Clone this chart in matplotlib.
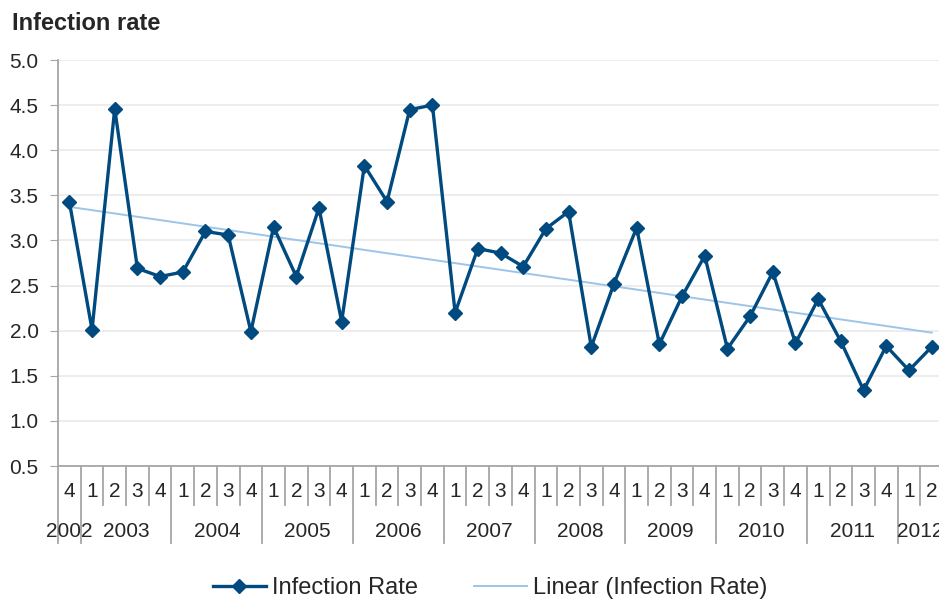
import numpy as np
import matplotlib
matplotlib.use("Agg")
import matplotlib.pyplot as plt
from matplotlib.lines import Line2D

plt.rcParams["font.family"] = ["Liberation Sans", "DejaVu Sans"]

# Quarterly infection rate, 2002 Q4 - 2012 Q2
quarters = ["4",
            "1", "2", "3", "4",
            "1", "2", "3", "4",
            "1", "2", "3", "4",
            "1", "2", "3", "4",
            "1", "2", "3", "4",
            "1", "2", "3", "4",
            "1", "2", "3", "4",
            "1", "2", "3", "4",
            "1", "2", "3", "4",
            "1", "2"]
years = ["2002", "2003", "2004", "2005", "2006", "2007",
         "2008", "2009", "2010", "2011", "2012"]
year_counts = [1, 4, 4, 4, 4, 4, 4, 4, 4, 4, 2]
rate = [3.43,
        2.01, 4.46, 2.69, 2.60,
        2.65, 3.10, 3.06, 1.99,
        3.15, 2.60, 3.36, 2.10,
        3.83, 3.43, 4.45, 4.50,
        2.20, 2.91, 2.86, 2.71,
        3.13, 3.32, 1.82, 2.52,
        3.14, 1.85, 2.38, 2.83,
        1.80, 2.16, 2.65, 1.86,
        2.35, 1.88, 1.34, 1.83,
        1.56, 1.82]

x = np.arange(len(rate))
slope, intercept = np.polyfit(x, rate, 1)
trend = slope * x + intercept

navy = "#004a7f"
light = "#9cc5e9"
grey = "#a6a6a6"
ink = "#262626"
fs = 15

fig = plt.figure(figsize=(9.39, 6), dpi=100)
ax = fig.add_axes([58 / 939, 134 / 600, 885 / 939, 406 / 600])

ax.plot(x, rate, color=navy, lw=2.4, marker="D", ms=7, zorder=3)
ax.plot(x, trend, color=light, lw=1.4, zorder=2)

ax.set_xlim(-0.5, len(rate) - 0.5)
ax.set_ylim(0.5, 5.0)
yt = np.arange(0.5, 5.01, 0.5)
ax.set_yticks(yt)
ax.set_yticklabels([f"{v:.1f}" for v in yt])
ax.yaxis.grid(True, color="#ececec", lw=1.3)
ax.set_axisbelow(True)
ax.tick_params(axis="y", length=6, color=grey, labelsize=fs,
               labelcolor=ink, pad=8)
ax.set_xticks([])
for s in ["top", "right"]:
    ax.spines[s].set_visible(False)
for s in ["left", "bottom"]:
    ax.spines[s].set_color(grey)
    ax.spines[s].set_linewidth(1.3)

# two-level category axis: quarters, then years
tr = ax.get_xaxis_transform()
q_y, y_y = -0.064, -0.162
q_bot, y_bot = -0.096, -0.19
for i, q in enumerate(quarters):
    ax.text(i, q_y, q, transform=tr, ha="center", va="center",
            fontsize=fs, color=ink)

boundaries = np.cumsum([0] + year_counts)
for i in range(len(quarters) + 1):
    bottom = y_bot if i in boundaries else q_bot
    ax.plot([i - 0.5, i - 0.5], [0, bottom], transform=tr, color=grey,
            lw=1.3, clip_on=False)

for yr, start, n in zip(years, boundaries[:-1], year_counts):
    ax.text(start + (n - 1) / 2, y_y, yr, transform=tr, ha="center",
            va="center", fontsize=fs, color=ink)

fig.text(12 / 939, 1 - 23 / 600, "Infection rate", fontsize=17,
         fontweight="bold", color=ink, va="center", ha="left")

handles = [Line2D([], [], color=navy, lw=2.4, marker="D", ms=7),
           Line2D([], [], color=light, lw=1.4)]
fig.legend(handles, ["Infection Rate", "Linear (Infection Rate)"],
           loc="center", bbox_to_anchor=(490 / 939, 1 - 588 / 600), ncol=2,
           frameon=False, fontsize=17, handlelength=2.25,
           columnspacing=2.37, handletextpad=0.25, labelcolor=ink)

fig.savefig("out.png", dpi=100)
